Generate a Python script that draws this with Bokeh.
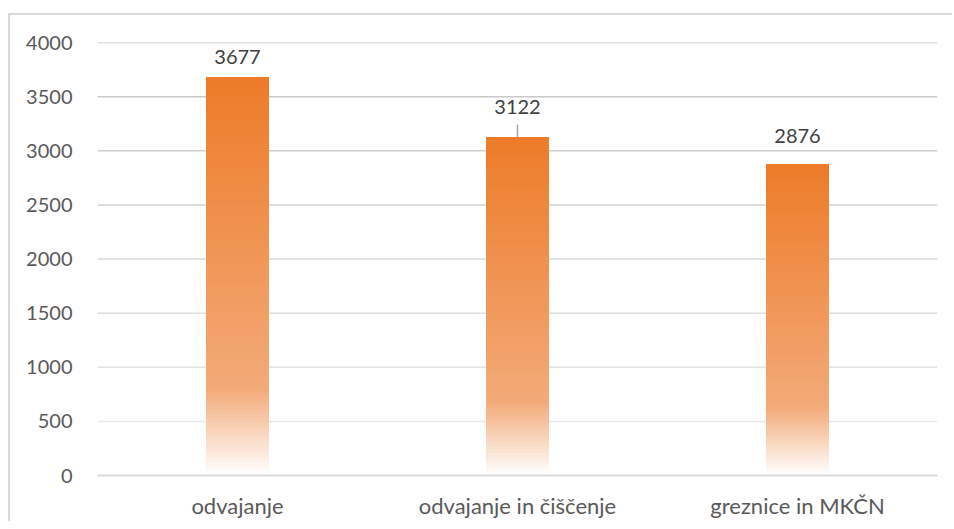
import numpy as np
from bokeh.plotting import figure
from bokeh.models import Range1d, FactorRange, FixedTicker, Span, ColumnDataSource
from bokeh.embed import file_html
from bokeh.resources import INLINE
from bokeh.core.properties import value

# ---- data ----
categories = ["odvajanje", "odvajanje in čiščenje", "greznice in MKČN"]
values = [3677, 3122, 2876]
y_ticks = [0, 500, 1000, 1500, 2000, 2500, 3000, 3500, 4000]

# ---- style ----
FONT = "Lato"
FS = "20px"
XFS = "22px"
TEXT_COLOR = "#595959"
LABEL_COLOR = "#404040"
BAR_WIDTH = 0.225
label_offsets = [-20, -31, -28]       # px, data label placement
leader_bars = [False, True, False]     # leader line shown
TOP = np.array([237, 123, 40])
MID = np.array([243, 170, 120])
WHITE = np.array([255, 255, 255])
FADE_START = 0.22
N_SLICES = 90

p = figure(x_range=FactorRange(factors=categories, range_padding=0, factor_padding=0),
           y_range=Range1d(0, 4000),
           frame_width=840, frame_height=433, output_backend="svg", toolbar_location=None,
           min_border_left=87, min_border_right=15, min_border_top=27, min_border_bottom=40)
p.styles = {"border-left": "2px solid #d9d9d9", "border-top": "2px solid #d9d9d9",
            "margin-left": "8px", "margin-top": "13px"}
p.outline_line_color = None
p.background_fill_color = "white"
p.border_fill_color = "white"
p.xgrid.grid_line_color = None
p.ygrid.grid_line_color = None

# gridlines (scan shading: darker near top)
for t in y_ticks:
    if t == 0:
        continue
    f = t / max(y_ticks)
    g = int(round(236 - (236 - 196) * f))
    p.add_layout(Span(location=t, dimension="width", line_color=f"#{g:02x}{g:02x}{g:02x}",
                      line_width=1.5, level="underlay"))

def grad_color(f):
    if f >= FADE_START:
        t = (f - FADE_START) / (1 - FADE_START)
        c = MID + (TOP - MID) * t
    else:
        t = f / FADE_START
        c = WHITE + (MID - WHITE) * t
    c = np.clip(np.round(c), 0, 255).astype(int)
    return "#%02x%02x%02x" % tuple(c)

xs, bots, tops, cols = [], [], [], []
for cat, v in zip(categories, values):
    for k in range(N_SLICES):
        f = (k + 0.5) / N_SLICES
        xs.append(cat)
        bots.append(v * k / N_SLICES)
        tops.append(v)
        cols.append(grad_color(f))
src = ColumnDataSource(dict(x=xs, bottom=bots, top=tops, color=cols))
p.vbar(x="x", bottom="bottom", top="top", width=BAR_WIDTH, fill_color="color",
       line_color=None, source=src)

# data labels
lab = ColumnDataSource(dict(x=categories, y=values, text=[str(v) for v in values],
                            yo=label_offsets))
p.text(x="x", y="y", text="text", y_offset="yo", source=lab, text_align="center",
       text_baseline="middle", text_font=value(FONT), text_font_size=FS,
       text_color=LABEL_COLOR)

# leader lines
for cat, v, show in zip(categories, values, leader_bars):
    if show:
        p.segment(x0=[cat], y0=[v], x1=[cat], y1=[v + 120], line_color="#a6a6a6",
                  line_width=1.5)

# axes
p.yaxis.ticker = FixedTicker(ticks=y_ticks)
p.yaxis.axis_line_color = None
p.yaxis.major_tick_line_color = None
p.yaxis.minor_tick_line_color = None
p.yaxis.major_label_text_font = FONT
p.yaxis.major_label_text_font_size = FS
p.yaxis.major_label_text_color = TEXT_COLOR
p.yaxis.major_label_standoff = 19

p.xaxis.axis_line_color = "#d9d9d9"
p.xaxis.axis_line_width = 2
p.xaxis.major_tick_line_color = None
p.xaxis.minor_tick_line_color = None
p.xaxis.major_label_text_font = FONT
p.xaxis.major_label_text_font_size = XFS
p.xaxis.major_label_text_color = TEXT_COLOR
p.xaxis.major_label_standoff = 10

open("out.html", "w").write(file_html(p, INLINE))
